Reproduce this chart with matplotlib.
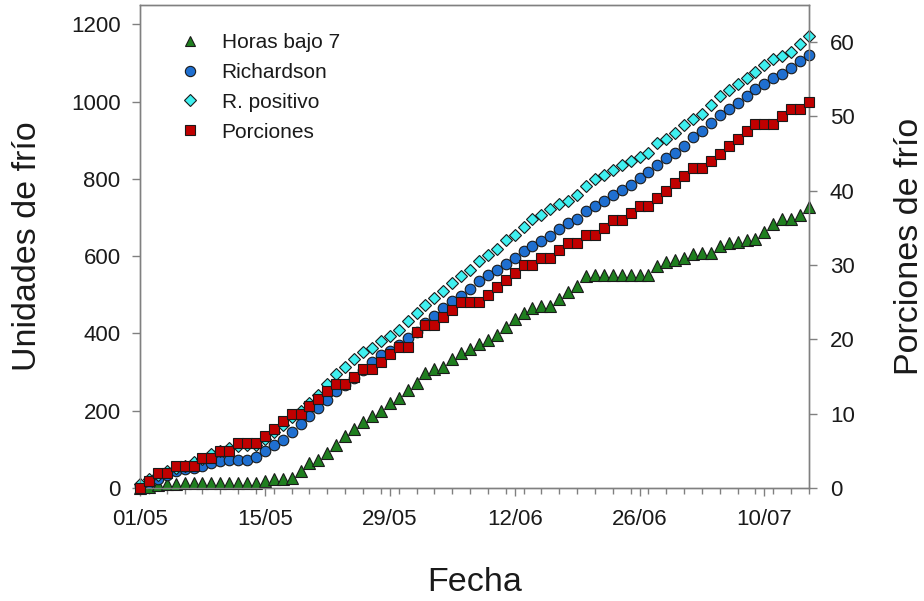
import matplotlib
matplotlib.use("Agg")
import matplotlib.pyplot as plt
import matplotlib.dates as mdates
from matplotlib.ticker import FixedLocator, MultipleLocator
from matplotlib.lines import Line2D
import pandas as pd

plt.rcParams['font.family'] = ['Liberation Sans', 'DejaVu Sans']

# ---- data (daily, 01/05 to 15/07) ----
start_date = "2014-05-01"
end_date = "2014-07-15"

horas_bajo_7 = [0, 3, 7, 10, 11, 12, 12, 12, 12, 12, 12, 12, 12, 13, 18, 22,
                24, 26, 44, 64, 73, 90, 111, 134, 152, 170, 187, 200, 220, 232,
                254, 273, 297, 308, 314, 334, 349, 359, 373, 384, 397, 416, 438,
                454, 465, 470, 471, 489, 506, 522, 548, 552, 552, 552, 552, 552,
                552, 552, 574, 584, 590, 594, 606, 608, 609, 626, 635, 636, 642,
                644, 663, 682, 695, 695, 706, 728]

richardson = [5, 12, 22, 33, 45, 50, 52, 56, 64, 70, 73, 73, 73, 79, 95, 110,
              125, 145, 166, 186, 206, 228, 252, 267, 284, 305, 325, 343, 355,
              370, 388, 405, 427, 446, 467, 483, 496, 515, 535, 550, 563, 581,
              594, 613, 627, 639, 652, 670, 686, 696, 716, 731, 742, 759, 772,
              783, 803, 817, 837, 855, 866, 886, 908, 924, 945, 965, 980, 997,
              1014, 1032, 1046, 1060, 1071, 1088, 1105, 1121]

r_positivo = [11, 22, 34, 45, 52, 58, 66, 76, 89, 97, 104, 108, 110, 110, 128,
              146, 164, 185, 199, 219, 240, 270, 294, 312, 334, 351, 362, 381,
              394, 410, 431, 453, 474, 492, 511, 531, 548, 565, 587, 604, 619,
              641, 656, 676, 695, 707, 721, 734, 742, 759, 781, 800, 811, 824,
              835, 846, 857, 866, 892, 904, 919, 939, 956, 969, 991, 1014, 1029,
              1045, 1062, 1077, 1096, 1109, 1118, 1129, 1148, 1170]

porciones = [0, 1, 2, 2, 3, 3, 3, 4, 4, 5, 5, 6, 6, 6, 7, 8, 9, 10, 10, 11, 12,
             13, 14, 14, 15, 16, 16, 17, 18, 19, 19, 21, 22, 22, 23, 24, 25, 25,
             25, 26, 27, 28, 29, 30, 30, 31, 31, 32, 33, 33, 34, 34, 35, 36, 36,
             37, 38, 38, 39, 40, 41, 42, 43, 43, 44, 45, 46, 47, 48, 49, 49, 49,
             50, 51, 51, 52]

series_labels = ["Horas bajo 7", "Richardson", "R. positivo", "Porciones"]
x_tick_labels = ["01/05", "15/05", "29/05", "12/06", "26/06", "10/07"]

dates = pd.date_range(start_date, end_date, freq="D")
assert len(dates) == len(horas_bajo_7) == len(richardson) == len(r_positivo) == len(porciones)

# ---- figure ----
fig = plt.figure(figsize=(9.24, 6.01), dpi=100)
ax = fig.add_axes([140 / 924, 1 - 488 / 601, (809 - 140) / 924, (488 - 5) / 601])
ax2 = ax.twinx()

txt = "#1a1a1a"
edge = "#1a1a1a"
ew = 0.8
c_green = "#1f7f1f"
c_blue = "#1f6fd0"
c_cyan = "#3ff0f0"
c_red = "#c00000"

xd = mdates.date2num(dates)

ax.plot(xd, horas_bajo_7, ls="none", marker="^", ms=8.7, mfc=c_green, mec=edge,
        mew=ew, clip_on=False, zorder=3)
ax.plot(xd, richardson, ls="none", marker="o", ms=7.6, mfc=c_blue, mec=edge,
        mew=ew, clip_on=False, zorder=4)
ax.plot(xd, r_positivo, ls="none", marker="D", ms=6.1, mfc=c_cyan, mec=edge,
        mew=ew, clip_on=False, zorder=5)
ax2.plot(xd, porciones, ls="none", marker="s", ms=7.3, mfc=c_red, mec=edge,
         mew=ew, clip_on=False, zorder=6)

ax.set_xlim(xd[0], xd[-1])
ax.set_ylim(0, 1250)
ax2.set_ylim(0, 65)

tick_pos = [mdates.date2num(pd.Timestamp(f"2014-{t[3:5]}-{t[0:2]}")) for t in x_tick_labels]
ax.xaxis.set_major_locator(FixedLocator(tick_pos))
ax.set_xticklabels(x_tick_labels)
ax.xaxis.set_minor_locator(MultipleLocator(2))
ax.set_yticks(range(0, 1201, 200))
ax2.set_yticks(range(0, 61, 10))

spine_c = "#808080"
for a in (ax, ax2):
    for s in a.spines.values():
        s.set_color(spine_c)
        s.set_linewidth(1.0)
ax.tick_params(axis="both", which="major", direction="out", length=6, width=1,
               color=spine_c, labelsize=16, labelcolor=txt, pad=8)
ax.tick_params(axis="x", which="minor", direction="out", length=4, width=1,
               color=spine_c)
ax.tick_params(axis="x", which="major", pad=9)
ax2.tick_params(axis="y", which="major", direction="out", length=6, width=1,
                color=spine_c, labelsize=16, labelcolor=txt, pad=9)

ax.set_ylabel("Unidades de frío", fontsize=24.5, color=txt, labelpad=20)
ax2.set_ylabel("Porciones de frío", fontsize=24.5, color=txt, labelpad=28)
ax.set_xlabel("Fecha", fontsize=24.5, color=txt, labelpad=27)

handles = [
    Line2D([], [], ls="none", marker="^", ms=7.5, mfc=c_green, mec=edge, mew=ew),
    Line2D([], [], ls="none", marker="o", ms=7.4, mfc=c_blue, mec=edge, mew=ew),
    Line2D([], [], ls="none", marker="D", ms=5.8, mfc=c_cyan, mec=edge, mew=ew),
    Line2D([], [], ls="none", marker="s", ms=6.5, mfc=c_red, mec=edge, mew=ew),
]
leg = fig.legend(handles, series_labels, loc="upper left",
                 bbox_to_anchor=(180 / 924, 1 - 33 / 601), frameon=False,
                 fontsize=15, handlelength=1.0, handletextpad=1.0,
                 labelspacing=0.52, borderpad=0, borderaxespad=0)
for t in leg.get_texts():
    t.set_color(txt)

fig.savefig("out.png", dpi=100)
